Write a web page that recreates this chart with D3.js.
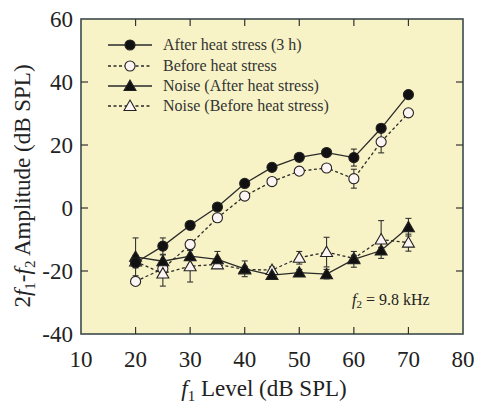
<!DOCTYPE html>
<html><head><meta charset="utf-8">
<script src="https://cdn.jsdelivr.net/npm/d3@7"></script>
<style>body{margin:0;background:#fff}svg{display:block}
svg text{font-family:"Liberation Serif","Times New Roman",Times,"DejaVu Serif",serif}</style>
</head><body>
<svg id="c" width="478" height="405"></svg>
<script>
const levels = [20,25,30,35,40,45,50,55,60,65,70];
const afterHeat = [-17.4,-12.1,-5.5,0.3,7.8,12.9,16.1,17.6,16.0,25.3,36.0];
const afterHeatErr = [1,2.6,1,1,1,1,1,1,2.7,1,1];
const beforeHeat = [-23.3,-19.3,-11.6,-3.1,3.8,8.4,11.7,12.7,9.3,21.0,30.2];
const beforeHeatErr = [1,1,1.5,1,1,1,1,1,3,3.5,1];
const noiseAfter = [-15.5,-16.9,-15.3,-16.3,-19.3,-21.3,-20.5,-21.0,-16.3,-13.5,-6.1];
const noiseAfterErr = [6,2,3,2.5,2.5,1,1,1.5,2.5,1,2.8];
const noiseBefore = [-17.0,-20.8,-18.5,-17.9,-19.5,-19.7,-15.8,-14.0,-16.0,-10.0,-11.0];
const noiseBeforeErr = [2,4,5,1,1,1,2,4.7,1,6,2.7];
const xTicks = [10,20,30,40,50,60,70,80];
const yTicks = [-40,-20,0,20,40,60];
const seriesNames = ["After heat stress (3 h)","Before heat stress","Noise (After heat stress)","Noise (Before heat stress)"];

const svg = d3.select("#c");
const L=81,R=463,T=19,B=334;
const x = d3.scaleLinear().domain([10,80]).range([L,R]);
const y = d3.scaleLinear().domain([-40,60]).range([B,T]);
const ink = "#222";

svg.append("rect").attr("x",L).attr("y",T).attr("width",R-L).attr("height",B-T)
  .attr("fill","#f7f3c6");

const series = [
  {name:seriesNames[0], v:afterHeat, e:afterHeatErr, dash:null, shape:"circle", fill:"#111"},
  {name:seriesNames[1], v:beforeHeat, e:beforeHeatErr, dash:"3,2.5", shape:"circle", fill:"#fdf5f3"},
  {name:seriesNames[2], v:noiseAfter, e:noiseAfterErr, dash:null, shape:"triangle", fill:"#111"},
  {name:seriesNames[3], v:noiseBefore, e:noiseBeforeErr, dash:"3,2.5", shape:"triangle", fill:"#fdf5f3"}
];

const line = d3.line().x(d=>x(d[0])).y(d=>y(d[1]));
const sym = {circle:d3.symbol(d3.symbolCircle, 80), triangle:d3.symbol(d3.symbolTriangle, 62)};

const order = [1,3,2,0];
order.forEach(i=>{
  const s=series[i];
  svg.append("path").attr("d", line(levels.map((l,k)=>[l,s.v[k]])))
    .attr("fill","none").attr("stroke","#2a2a2a").attr("stroke-width",1.3)
    .attr("stroke-dasharray", s.dash);
});
order.forEach(i=>{
  const s=series[i];
  const g=svg.append("g").attr("stroke","#333").attr("stroke-width",1.1);
  levels.forEach((l,k)=>{
    const cx=x(l), y1=y(s.v[k]+s.e[k]), y2=y(s.v[k]-s.e[k]);
    g.append("line").attr("x1",cx).attr("x2",cx).attr("y1",y1).attr("y2",y2);
    g.append("line").attr("x1",cx-3).attr("x2",cx+3).attr("y1",y1).attr("y2",y1);
    g.append("line").attr("x1",cx-3).attr("x2",cx+3).attr("y1",y2).attr("y2",y2);
  });
});
order.forEach(i=>{
  const s=series[i];
  svg.append("g").selectAll("path").data(levels.map((l,k)=>[l,s.v[k]])).join("path")
    .attr("d", sym[s.shape]())
    .attr("transform", d=>`translate(${x(d[0])},${y(d[1]) + (s.shape==="triangle"?1:0)})`)
    .attr("fill", s.fill).attr("stroke","#222").attr("stroke-width",1.1);
});

svg.append("rect").attr("x",L).attr("y",T).attr("width",R-L).attr("height",B-T)
  .attr("fill","none").attr("stroke","#3d4a4a").attr("stroke-width",1.6);

const tg = svg.append("g").attr("stroke","#333").attr("stroke-width",1.2);
xTicks.slice(1,-1).forEach(t=>{
  tg.append("line").attr("x1",x(t)).attr("x2",x(t)).attr("y1",B).attr("y2",B-7);
  tg.append("line").attr("x1",x(t)).attr("x2",x(t)).attr("y1",T).attr("y2",T+7);
});
yTicks.slice(1,-1).forEach(t=>{
  tg.append("line").attr("x1",L).attr("x2",L+7).attr("y1",y(t)).attr("y2",y(t));
  tg.append("line").attr("x1",R).attr("x2",R-7).attr("y1",y(t)).attr("y2",y(t));
});

svg.append("g").selectAll("text").data(xTicks).join("text")
  .attr("x",d=>x(d)).attr("y",367).attr("text-anchor","middle")
  .attr("font-size",23).attr("fill",ink).text(d=>d);
svg.append("g").selectAll("text").data(yTicks).join("text")
  .attr("x",73).attr("y",d=>y(d)).attr("dy","0.35em").attr("text-anchor","end")
  .attr("font-size",23).attr("fill",ink).text(d=>d);

const xt = svg.append("text").attr("x",264).attr("y",396).attr("text-anchor","middle")
  .attr("font-size",23).attr("fill",ink);
xt.append("tspan").attr("font-style","italic").text("f");
xt.append("tspan").attr("font-size",15).attr("dy",5).text("1");
xt.append("tspan").attr("dy",-5).text(" Level (dB SPL)");

const yt = svg.append("text").attr("transform","translate(30,186) rotate(-90)")
  .attr("text-anchor","middle").attr("font-size",23).attr("fill",ink);
yt.append("tspan").text("2");
yt.append("tspan").attr("font-style","italic").text("f");
yt.append("tspan").attr("font-size",15).attr("dy",5).text("1");
yt.append("tspan").attr("dy",-5).text("-");
yt.append("tspan").attr("font-style","italic").text("f");
yt.append("tspan").attr("font-size",15).attr("dy",5).text("2");
yt.append("tspan").attr("dy",-5).text(" Amplitude (dB SPL)");

const an = svg.append("text").attr("x",352).attr("y",305)
  .attr("font-size",16).attr("fill",ink);
an.append("tspan").attr("font-style","italic").text("f");
an.append("tspan").attr("font-size",11).attr("dy",3).text("2");
an.append("tspan").attr("dy",-3).text(" = 9.8 kHz");

const ly=[45,66,86,106];
series.forEach((s,i)=>{
  const g=svg.append("g");
  g.append("line").attr("x1",108).attr("x2",152).attr("y1",ly[i]).attr("y2",ly[i])
    .attr("stroke","#2a2a2a").attr("stroke-width",1.3).attr("stroke-dasharray",s.dash);
  g.append("path").attr("d",sym[s.shape]())
    .attr("transform",`translate(130,${ly[i]+(s.shape==="triangle"?1:0)})`)
    .attr("fill",s.fill).attr("stroke","#222").attr("stroke-width",1.1);
  g.append("text").attr("x",163).attr("y",ly[i]).attr("dy","0.33em")
    .attr("font-size",16).attr("fill","#333").text(s.name);
});
</script>
</body></html>
